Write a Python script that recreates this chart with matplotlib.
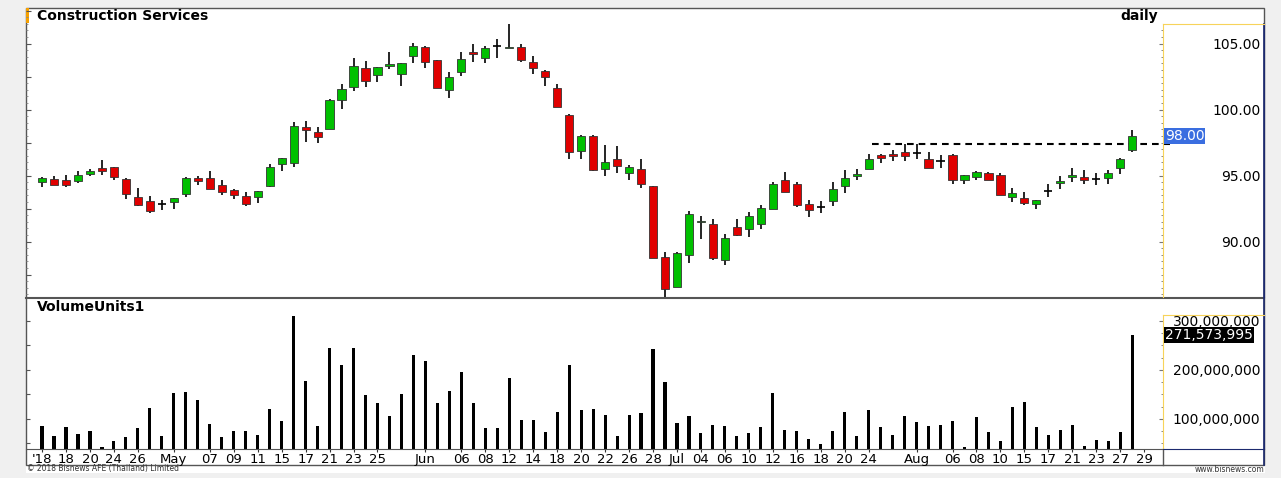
import matplotlib
matplotlib.use("Agg")
import matplotlib.pyplot as plt
from matplotlib.patches import Rectangle
from matplotlib.ticker import FixedLocator, MultipleLocator, FuncFormatter, FormatStrFormatter
import numpy as np

W, H = 1281, 478

# daily OHLC, Apr 12 - Aug 28 2018
opens = [94.49, 94.75, 94.67, 94.60, 95.13, 95.56, 95.63, 94.75, 93.35, 93.05,
         92.88, 92.98, 93.58, 94.82, 94.85, 94.32, 93.94, 93.46, 93.36, 94.24,
         95.86, 95.93, 98.69, 98.33, 98.51, 100.76, 101.69, 103.16, 102.65, 103.33,
         102.68, 104.04, 104.77, 103.74, 101.46, 102.88, 104.34, 103.94, 104.80, 104.65,
         104.77, 103.59, 102.95, 101.67, 99.60, 96.89, 97.98, 95.53, 96.29, 95.20,
         95.50, 94.24, 88.86, 86.59, 88.99, 91.46, 91.36, 88.61, 91.14, 90.96,
         91.31, 92.50, 94.65, 94.37, 92.83, 92.63, 93.06, 94.24, 95.00, 95.48,
         96.54, 96.67, 96.77, 96.72, 96.26, 96.14, 96.54, 94.65, 94.90, 95.20,
         95.03, 93.36, 93.31, 92.85, 93.86, 94.42, 94.92, 94.92, 94.72, 94.80,
         95.61, 96.95]
highs = [94.92, 94.97, 95.08, 95.33, 95.50, 96.16, 95.68, 94.80, 94.10, 93.43,
         93.15, 93.31, 94.92, 95.00, 95.33, 94.67, 94.02, 93.76, 93.81, 95.88,
         96.34, 99.07, 99.17, 98.69, 100.81, 101.92, 103.94, 103.69, 103.26, 104.37,
         103.54, 105.05, 104.85, 103.74, 102.88, 104.39, 105.00, 104.85, 105.33, 106.46,
         104.95, 104.04, 103.00, 101.94, 99.65, 98.08, 98.08, 97.30, 97.22, 95.83,
         96.24, 94.24, 89.19, 89.19, 92.35, 91.92, 91.72, 90.61, 91.72, 92.22,
         92.78, 94.49, 95.25, 94.49, 93.13, 93.05, 94.49, 95.40, 95.48, 96.67,
         96.67, 96.97, 97.40, 97.40, 96.82, 96.54, 96.67, 95.05, 95.33, 95.25,
         95.18, 94.09, 93.76, 93.15, 94.39, 94.97, 95.58, 95.40, 95.18, 95.40,
         96.36, 98.43]
lows = [94.17, 94.27, 94.17, 94.47, 94.97, 95.05, 94.67, 93.25, 92.73, 92.20,
        92.40, 92.45, 93.40, 94.29, 94.02, 93.56, 93.20, 92.73, 92.90, 94.17,
        95.33, 95.63, 97.58, 97.50, 98.51, 100.05, 101.44, 101.69, 102.07, 103.08,
        101.79, 103.56, 103.13, 101.62, 100.86, 102.55, 103.64, 103.51, 103.89, 104.65,
        103.64, 102.70, 101.82, 100.18, 96.29, 96.24, 95.35, 94.97, 95.18, 94.67,
        94.04, 88.79, 85.81, 86.54, 88.36, 90.23, 88.59, 88.21, 90.43, 90.33,
        90.96, 92.47, 93.79, 92.65, 91.84, 92.20, 92.73, 93.66, 94.67, 95.48,
        95.93, 96.14, 96.14, 96.26, 95.56, 95.56, 94.34, 94.34, 94.65, 94.65,
        93.51, 92.98, 92.80, 92.50, 93.41, 93.96, 94.55, 94.34, 94.27, 94.39,
        95.15, 96.82]
closes = [94.85, 94.32, 94.27, 95.08, 95.38, 95.38, 94.90, 93.58, 92.80, 92.35,
          92.88, 93.31, 94.82, 94.62, 94.02, 93.74, 93.51, 92.85, 93.81, 95.66,
          96.34, 98.79, 98.48, 97.90, 100.76, 101.57, 103.33, 102.20, 103.26, 103.43,
          103.54, 104.80, 103.59, 101.62, 102.50, 103.81, 104.24, 104.67, 104.80, 104.77,
          103.79, 103.13, 102.45, 100.18, 96.82, 97.98, 95.40, 96.01, 95.73, 95.66,
          94.37, 88.79, 86.39, 89.12, 92.07, 91.59, 88.79, 90.25, 90.48, 91.94,
          92.58, 94.37, 93.79, 92.80, 92.42, 92.63, 93.96, 94.82, 95.15, 96.29,
          96.34, 96.49, 96.52, 96.72, 95.61, 96.14, 94.65, 95.05, 95.25, 94.70,
          93.56, 93.69, 92.90, 93.15, 93.86, 94.60, 95.05, 94.65, 94.72, 95.20,
          96.24, 98.00]
volumes_m = [86, 64, 83, 69, 74, 42, 54, 63, 82, 122,
             65, 152, 154, 138, 90, 63, 74, 74, 66, 119,
             95, 311, 178, 86, 244, 210, 244, 149, 133, 105,
             150, 230, 219, 132, 157, 195, 132, 81, 82, 183,
             97, 97, 73, 114, 210, 118, 119, 108, 65, 107,
             112, 242, 176, 92, 105, 70, 88, 86, 65, 71,
             83, 153, 78, 76, 58, 48, 76, 114, 64, 118,
             84, 66, 106, 94, 86, 88, 95, 43, 103, 73,
             55, 124, 134, 83, 66, 77, 88, 45, 56, 55,
             73, 271.573995]

tick_idx = [0, 2, 4, 6, 8, 11, 14, 16, 18, 20, 22, 24, 26, 28, 32, 35, 37, 39, 41, 43,
            45, 47, 49, 51, 53, 55, 57, 59, 61, 63, 65, 67, 69, 73, 76, 78, 80, 82, 84, 86,
            88, 90, 92]
tick_labels = ["'18", "18", "20", "24", "26", "May", "07", "09", "11", "15", "17", "21",
               "23", "25", "Jun", "06", "08", "12", "14", "18", "20", "22", "26", "28",
               "Jul", "04", "06", "10", "12", "16", "18", "20", "24", "Aug", "06", "08",
               "10", "15", "17", "21", "23", "27", "29"]

resistance = 97.4
resistance_from = 69.25
last_close_label = "98.00"
last_volume = 271573995

GREEN = '#00c000'
RED = '#e00000'
YEL = '#f7d35a'
NAVY = '#1c2a6e'
GRID = '#555555'

XLIM = (-1.34, 93.57)


def box(x0, y0, x1, y1):
    return [x0 / W, 1 - y1 / H, (x1 - x0) / W, (y1 - y0) / H]


fig = plt.figure(figsize=(W / 100, H / 100), dpi=100)
fig.patch.set_facecolor('#f0f0f0')

# frame drawn in pixel coordinates
frame = fig.add_axes([0, 0, 1, 1])
frame.set_xlim(0, W)
frame.set_ylim(H, 0)
frame.axis('off')
frame.add_patch(Rectangle((26, 8), 1239, 465, facecolor='white', edgecolor='none'))
frame.add_patch(Rectangle((26, 8), 1238, 457, facecolor='none', edgecolor=GRID, lw=1))
frame.add_patch(Rectangle((26, 8), 3, 15, facecolor='#f5a000', edgecolor='none'))
frame.plot([26, 1264], [298, 298], color=GRID, lw=1.5)
frame.plot([1264, 1264], [24, 465], color=NAVY, lw=1.2)
frame.plot([1163, 1163], [449, 465], color=GRID, lw=1)
frame.text(37, 16, "Construction Services", fontsize=10, fontweight='bold', va='center')
frame.text(1158, 16, "daily", fontsize=10, fontweight='bold', va='center', ha='right')
frame.text(37, 307, "VolumeUnits1", fontsize=10, fontweight='bold', va='center')
frame.text(27, 469, "\u00a9 2018 Bisnews AFE (Thailand) Limited", fontsize=5.5,
           color='#333333', va='center')
frame.text(1264, 469, "www.bisnews.com", fontsize=5.5, color='#333333', va='center', ha='right')

x = np.arange(len(opens))
o, h, l, c = (np.array(a) for a in (opens, highs, lows, closes))
up = c > o
down = c < o
flat = c == o

# price panel
ax = fig.add_axes(box(26, 8, 1163, 297))
ax.set_facecolor('none')
ax.set_xlim(*XLIM)
ax.set_ylim(85.81, 107.70)
for s in ax.spines.values():
    s.set_visible(False)
ax.set_xticks([])
ax.yaxis.set_major_locator(MultipleLocator(2.5))
ax.yaxis.set_minor_locator(MultipleLocator(0.5))
ax.tick_params(axis='y', which='major', direction='in', length=3.5, color=GRID, labelleft=False)
ax.tick_params(axis='y', which='minor', direction='in', length=1.5, color='#888888')

ax.hlines(resistance, resistance_from, 94.15, colors='black', linestyles=(0, (3.2, 2.4)),
          lw=1.5, clip_on=False, zorder=1.5)
ax.vlines(x, l, h, color='black', lw=1.2, zorder=2)
ax.bar(x[up], (c - o)[up], bottom=o[up], width=0.68, color=GREEN,
       edgecolor='#333333', lw=0.6, zorder=3)
ax.bar(x[down], (o - c)[down], bottom=c[down], width=0.68, color=RED,
       edgecolor='#333333', lw=0.6, zorder=3)
ax.hlines(o[flat], x[flat] - 0.34, x[flat] + 0.34, color='black', lw=1.2, zorder=3)

# volume panel
axv = fig.add_axes(box(26, 299, 1163, 449))
axv.set_facecolor('none')
axv.set_xlim(*XLIM)
axv.set_ylim(38.2e6, 344.9e6)
for k in ('top', 'left', 'right'):
    axv.spines[k].set_visible(False)
axv.spines['bottom'].set_color(GRID)
axv.bar(x, np.array(volumes_m) * 1e6, width=0.26, color='black')
axv.set_xticks(tick_idx, tick_labels)
axv.tick_params(axis='x', length=2.5, pad=0.5, color='#333333', labelsize=9.5)
axv.yaxis.set_major_locator(MultipleLocator(50e6))
axv.tick_params(axis='y', direction='in', length=3, color=GRID, labelleft=False)

# right scale, price
axr = fig.add_axes(box(1163, 24, 1264, 297))
axr.set_facecolor('none')
axr.set_xlim(0, 1)
axr.set_ylim(85.81, 106.49)
axr.set_xticks([])
axr.spines['left'].set_color(YEL)
axr.spines['top'].set_color(YEL)
axr.spines['right'].set_color(NAVY)
axr.spines['bottom'].set_visible(False)
axr.yaxis.set_major_locator(FixedLocator([90, 95, 100, 105]))
axr.yaxis.set_major_formatter(FormatStrFormatter('%.2f'))
axr.yaxis.set_minor_locator(MultipleLocator(0.5))
axr.tick_params(axis='y', which='both', left=True, right=False, labelleft=False,
                labelright=True, direction='out', color='#777777')
axr.tick_params(axis='y', which='major', length=3, pad=-5.5, labelsize=10)
axr.tick_params(axis='y', which='minor', length=1.5)
axr.text(0.02, 98.0, last_close_label, color='white', fontsize=10, va='center', ha='left',
         bbox=dict(facecolor='#3a6ee0', edgecolor='none', pad=0.6))

# right scale, volume
axvr = fig.add_axes(box(1163, 315, 1264, 449))
axvr.set_facecolor('none')
axvr.set_xlim(0, 1)
axvr.set_ylim(38.2e6, 312.2e6)
axvr.set_xticks([])
axvr.spines['left'].set_color(YEL)
axvr.spines['top'].set_color(YEL)
axvr.spines['right'].set_color(NAVY)
axvr.spines['bottom'].set_color(NAVY)
axvr.yaxis.set_major_locator(FixedLocator([100e6, 200e6, 300e6]))
axvr.yaxis.set_major_formatter(FuncFormatter(lambda v, p: f'{v:,.0f}'))
axvr.yaxis.set_minor_locator(MultipleLocator(25e6))
axvr.tick_params(axis='y', which='both', left=True, right=False, labelleft=False,
                 labelright=True, direction='out', color='#777777')
axvr.tick_params(axis='y', which='major', length=3, pad=-5.5, labelsize=10)
axvr.tick_params(axis='y', which='minor', length=1.5)
axvr.text(0.02, last_volume, f'{last_volume:,}', color='white', fontsize=10,
          va='center', ha='left', bbox=dict(facecolor='black', edgecolor='none', pad=0.6))

fig.canvas.draw()
for a in (axr, axvr):
    for t in a.get_yticklabels():
        t.set_horizontalalignment('right')

fig.savefig('out.png', dpi=100, facecolor=fig.get_facecolor())
